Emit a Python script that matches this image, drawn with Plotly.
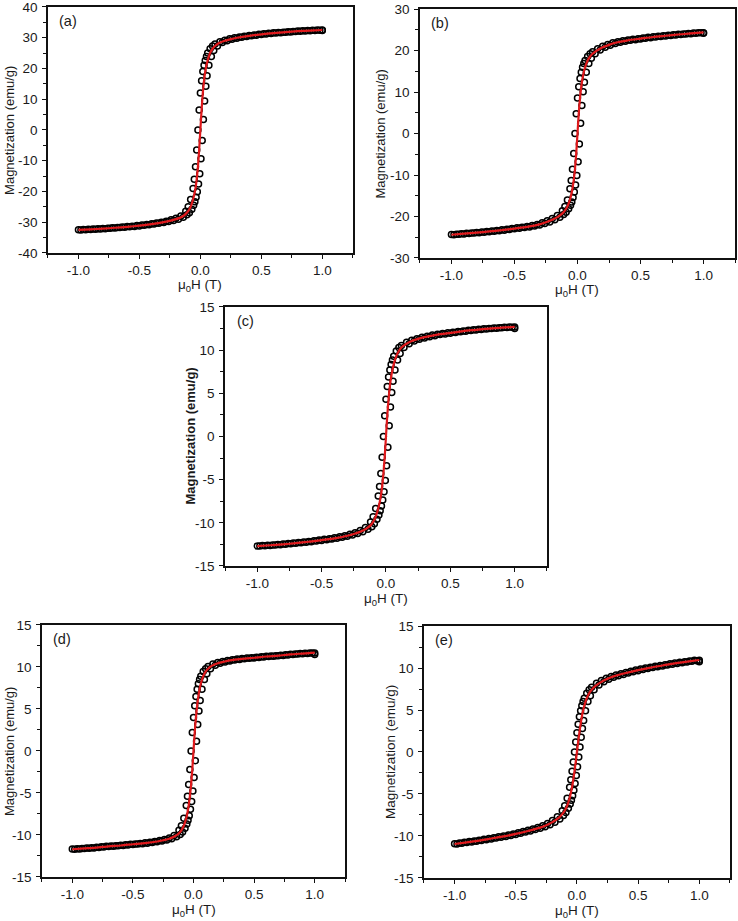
import plotly.graph_objects as go

# ---------------- field grids (T) ----------------
H_DESC = [1.00, 0.96, 0.92, 0.88, 0.84, 0.80, 0.76, 0.72, 0.68, 0.64, 0.60, 0.56, 0.52, 0.48, 0.44,
          0.40, 0.36, 0.32, 0.28, 0.24, 0.20, 0.16, 0.12,
          0.10, 0.08, 0.06, 0.05, 0.04, 0.03, 0.02, 0.01, 0.00, -0.01, -0.02, -0.03, -0.04, -0.05,
          -0.06, -0.08, -0.10,
          -0.12, -0.16, -0.20, -0.24, -0.28, -0.32, -0.36, -0.40, -0.44, -0.48, -0.52, -0.56, -0.60,
          -0.64, -0.68, -0.72, -0.76, -0.80, -0.84, -0.88, -0.92, -0.96, -1.00]
H_ASC = [-0.98, -0.94, -0.90, -0.86, -0.82, -0.78, -0.74, -0.70, -0.66, -0.62, -0.58, -0.54, -0.50,
         -0.46, -0.42, -0.38, -0.34, -0.30, -0.26, -0.22, -0.18, -0.14,
         -0.11, -0.09, -0.07, -0.055, -0.045, -0.035, -0.025, -0.015, -0.005, 0.005, 0.015, 0.025,
         0.035, 0.045, 0.055, 0.07, 0.09, 0.11,
         0.14, 0.18, 0.22, 0.26, 0.30, 0.34, 0.38, 0.42, 0.46, 0.50, 0.54, 0.58, 0.62, 0.66, 0.70,
         0.74, 0.78, 0.82, 0.86, 0.90, 0.94, 0.98, 1.00]
H_FIT = [-1.0, -0.9, -0.8, -0.7, -0.6, -0.5, -0.4, -0.3, -0.25, -0.2, -0.15, -0.12, -0.1, -0.08,
         -0.06, -0.05, -0.04, -0.03, -0.02, -0.01, 0.0, 0.01, 0.02, 0.03, 0.04, 0.05, 0.06, 0.08,
         0.1, 0.12, 0.15, 0.2, 0.25, 0.3, 0.4, 0.5, 0.6, 0.7, 0.8, 0.9, 1.0]

# ---------------- panel (a) ----------------
A_DESC = [32.3, 32.46, 32.38, 32.3, 32.22, 32.14, 32.04, 31.92, 31.8, 31.68, 31.56, 31.42, 31.27,
          31.1, 30.9, 30.7, 30.5, 30.25, 29.97, 29.65, 29.2, 28.7, 27.95,
          27.3, 26.4, 25.0, 23.9, 22.6, 21.0, 19.0, 16.0, 12.0, 6.5, 0.0, -6.5, -12.0, -16.0, -19.0,
          -22.6, -25.0,
          -26.4, -27.95, -28.7, -29.2, -29.65, -29.97, -30.25, -30.5, -30.7, -30.9, -31.1, -31.27,
          -31.42, -31.56, -31.68, -31.8, -31.92, -32.04, -32.14, -32.22, -32.3, -32.38, -32.46]
A_ASC = [-32.5, -32.42, -32.34, -32.26, -32.18, -32.1, -31.98, -31.86, -31.74, -31.62, -31.5, -31.35,
         -31.2, -31.0, -30.8, -30.6, -30.35, -30.1, -29.8, -29.45, -29.0, -28.4,
         -27.6, -26.9, -25.8, -24.5, -23.3, -21.9, -20.1, -17.6, -14.2, -9.4, -3.4, 3.4, 9.4, 14.2,
         17.6, 21.0, 23.9, 25.8,
         27.3, 28.4, 29.0, 29.45, 29.8, 30.1, 30.35, 30.6, 30.8, 31.0, 31.2, 31.35, 31.5, 31.62,
         31.74, 31.86, 31.98, 32.1, 32.18, 32.26, 32.34, 32.42, 32.46]
A_FIT = [-32.5, -32.3, -32.1, -31.8, -31.5, -31.1, -30.6, -29.97, -29.55, -29.0, -28.2, -27.3, -26.4,
         -25.0, -22.6, -21.0, -19.0, -16.0, -12.0, -6.5, 0.0, 6.5, 12.0, 16.0, 19.0, 21.0, 22.6,
         25.0, 26.4, 27.3, 28.2, 29.0, 29.55, 29.97, 30.6, 31.1, 31.5, 31.8, 32.1, 32.3, 32.5]

# ---------------- panel (b) ----------------
B_DESC = [24.2, 24.35, 24.25, 24.15, 24.05, 23.95, 23.84, 23.72, 23.6, 23.48, 23.36, 23.22, 23.06,
          22.9, 22.74, 22.58, 22.38, 22.14, 21.9, 21.5, 21.05, 20.45, 19.75,
          19.25, 18.6, 17.6, 16.9, 16.0, 14.8, 13.3, 11.3, 8.6, 4.8, 0.0, -4.8, -8.6, -11.3, -13.3,
          -16.0, -17.6,
          -18.6, -19.75, -20.45, -21.05, -21.5, -21.9, -22.14, -22.38, -22.58, -22.74, -22.9, -23.06,
          -23.22, -23.36, -23.48, -23.6, -23.72, -23.84, -23.95, -24.05, -24.15, -24.25, -24.35]
B_ASC = [-24.4, -24.3, -24.2, -24.1, -24.0, -23.9, -23.78, -23.66, -23.54, -23.42, -23.3, -23.14,
         -22.98, -22.82, -22.66, -22.5, -22.26, -22.02, -21.7, -21.3, -20.8, -20.15,
         -19.5, -18.95, -18.15, -17.3, -16.5, -15.4, -14.1, -12.4, -10.1, -6.8, -2.5, 2.5, 6.8,
         10.1, 12.4, 14.8, 16.9, 18.15,
         19.25, 20.15, 20.8, 21.3, 21.7, 22.02, 22.26, 22.5, 22.66, 22.82, 22.98, 23.14, 23.3,
         23.42, 23.54, 23.66, 23.78, 23.9, 24.0, 24.1, 24.2, 24.3, 24.35]
B_FIT = [-24.4, -24.15, -23.9, -23.6, -23.3, -22.9, -22.5, -21.9, -21.4, -20.8, -19.95, -19.25, -18.6,
         -17.6, -16.0, -14.8, -13.3, -11.3, -8.6, -4.8, 0.0, 4.8, 8.6, 11.3, 13.3, 14.8, 16.0, 17.6,
         18.6, 19.25, 19.95, 20.8, 21.4, 21.9, 22.5, 22.9, 23.3, 23.6, 23.9, 24.15, 24.4]

# ---------------- panel (c) ----------------
C_DESC = [12.5, 12.68, 12.64, 12.6, 12.56, 12.52, 12.47, 12.41, 12.35, 12.29, 12.23, 12.16, 12.08,
          12.0, 11.92, 11.84, 11.74, 11.62, 11.5, 11.33, 11.15, 10.9, 10.55,
          10.3, 9.9, 9.3, 8.85, 8.35, 7.7, 6.9, 5.8, 4.3, 2.4, 0.0, -2.4, -4.3, -5.8, -6.9, -8.35,
          -9.3,
          -9.9, -10.55, -10.9, -11.15, -11.33, -11.5, -11.62, -11.74, -11.84, -11.92, -12.0, -12.08,
          -12.16, -12.23, -12.29, -12.35, -12.41, -12.47, -12.52, -12.56, -12.6, -12.64, -12.68]
C_ASC = [-12.7, -12.66, -12.62, -12.58, -12.54, -12.5, -12.44, -12.38, -12.32, -12.26, -12.2, -12.12,
         -12.04, -11.96, -11.88, -11.8, -11.68, -11.56, -11.42, -11.25, -11.05, -10.75,
         -10.45, -10.1, -9.6, -9.1, -8.6, -8.05, -7.35, -6.4, -5.1, -3.4, -1.25, 1.25, 3.4, 5.1,
         6.4, 7.7, 8.85, 9.6,
         10.3, 10.75, 11.05, 11.25, 11.42, 11.56, 11.68, 11.8, 11.88, 11.96, 12.04, 12.12, 12.2,
         12.26, 12.32, 12.38, 12.44, 12.5, 12.54, 12.58, 12.62, 12.66, 12.68]
C_FIT = [-12.7, -12.6, -12.5, -12.35, -12.2, -12.0, -11.8, -11.5, -11.3, -11.05, -10.65, -10.3, -9.9,
         -9.3, -8.35, -7.7, -6.9, -5.8, -4.3, -2.4, 0.0, 2.4, 4.3, 5.8, 6.9, 7.7, 8.35, 9.3, 9.9,
         10.3, 10.65, 11.05, 11.3, 11.5, 11.8, 12.0, 12.2, 12.35, 12.5, 12.6, 12.7]

# ---------------- panel (d) ----------------
D_DESC = [11.5, 11.68, 11.64, 11.6, 11.56, 11.52, 11.47, 11.41, 11.35, 11.31, 11.27, 11.22, 11.16,
          11.1, 11.06, 11.0, 10.94, 10.86, 10.78, 10.66, 10.53, 10.35, 10.05,
          9.8, 9.45, 8.9, 8.5, 8.0, 7.35, 6.5, 5.4, 4.0, 2.2, 0.0, -2.2, -4.0, -5.4, -6.5, -8.0, -8.9,
          -9.45, -10.05, -10.35, -10.53, -10.66, -10.78, -10.86, -10.94, -11.0, -11.06, -11.1,
          -11.16, -11.22, -11.27, -11.31, -11.35, -11.41, -11.47, -11.52, -11.56, -11.6, -11.64,
          -11.68]
D_ASC = [-11.7, -11.66, -11.62, -11.58, -11.54, -11.5, -11.44, -11.38, -11.33, -11.29, -11.25, -11.19,
         -11.13, -11.08, -11.03, -10.97, -10.9, -10.82, -10.72, -10.6, -10.45, -10.2,
         -9.95, -9.65, -9.2, -8.7, -8.25, -7.7, -6.95, -6.0, -4.75, -3.15, -1.15, 1.15, 3.15, 4.75,
         6.0, 7.35, 8.5, 9.2,
         9.8, 10.2, 10.45, 10.6, 10.72, 10.82, 10.9, 10.97, 11.03, 11.08, 11.13, 11.19, 11.25,
         11.29, 11.33, 11.38, 11.44, 11.5, 11.54, 11.58, 11.62, 11.66, 11.68]
D_FIT = [-11.7, -11.6, -11.5, -11.35, -11.25, -11.1, -10.97, -10.78, -10.63, -10.45, -10.13, -9.8,
         -9.45, -8.9, -8.0, -7.35, -6.5, -5.4, -4.0, -2.2, 0.0, 2.2, 4.0, 5.4, 6.5, 7.35, 8.0, 8.9,
         9.45, 9.8, 10.13, 10.45, 10.63, 10.78, 10.97, 11.1, 11.25, 11.35, 11.5, 11.6, 11.7]

# ---------------- panel (e) ----------------
E_DESC = [10.75, 10.91, 10.83, 10.75, 10.67, 10.59, 10.5, 10.4, 10.3, 10.2, 10.1, 9.99, 9.87, 9.75,
          9.61, 9.47, 9.32, 9.16, 9.0, 8.77, 8.5, 8.17, 7.72,
          7.4, 7.0, 6.4, 6.0, 5.5, 4.9, 4.2, 3.3, 2.3, 1.2, 0.0, -1.2, -2.3, -3.3, -4.2, -5.5, -6.4,
          -7.0, -7.72, -8.17, -8.5, -8.77, -9.0, -9.16, -9.32, -9.47, -9.61, -9.75, -9.87, -9.99,
          -10.1, -10.2, -10.3, -10.4, -10.5, -10.59, -10.67, -10.75, -10.83, -10.91]
E_ASC = [-10.95, -10.87, -10.79, -10.71, -10.63, -10.55, -10.45, -10.35, -10.25, -10.15, -10.05,
         -9.93, -9.81, -9.68, -9.54, -9.4, -9.24, -9.08, -8.89, -8.65, -8.35, -7.97,
         -7.57, -7.2, -6.7, -6.2, -5.75, -5.2, -4.55, -3.75, -2.8, -1.75, -0.6, 0.6, 1.75, 2.8,
         3.75, 4.9, 6.0, 6.7,
         7.4, 7.97, 8.35, 8.65, 8.89, 9.08, 9.24, 9.4, 9.54, 9.68, 9.81, 9.93, 10.05, 10.15, 10.25,
         10.35, 10.45, 10.55, 10.63, 10.71, 10.79, 10.87, 10.91]
E_FIT = [-10.95, -10.75, -10.55, -10.3, -10.05, -9.75, -9.4, -9.0, -8.72, -8.35, -7.85, -7.4, -7.0,
         -6.4, -5.5, -4.9, -4.2, -3.3, -2.3, -1.2, 0.0, 1.2, 2.3, 3.3, 4.2, 4.9, 5.5, 6.4, 7.0, 7.4,
         7.85, 8.35, 8.72, 9.0, 9.4, 9.75, 10.05, 10.3, 10.55, 10.75, 10.95]

# ---------------- ticks / labels ----------------
PANEL_LABELS = ["(a)", "(b)", "(c)", "(d)", "(e)"]
X_TICKS = [-1.0, -0.5, 0.0, 0.5, 1.0]
X_TICK_TEXT = ["-1.0", "-0.5", "0.0", "0.5", "1.0"]
X_MINOR = [-1.25, -0.75, -0.25, 0.25, 0.75, 1.25]
Y_TICKS_A = [-40, -30, -20, -10, 0, 10, 20, 30, 40]
Y_TEXT_A = ["-40", "-30", "-20", "-10", "0", "10", "20", "30", "40"]
Y_MINOR_A = [-35, -25, -15, -5, 5, 15, 25, 35]
Y_TICKS_B = [-30, -20, -10, 0, 10, 20, 30]
Y_TEXT_B = ["-30", "-20", "-10", "0", "10", "20", "30"]
Y_MINOR_B = [-25, -15, -5, 5, 15, 25]
Y_TICKS_C = [-15, -10, -5, 0, 5, 10, 15]
Y_TEXT_C = ["-15", "-10", "-5", "0", "5", "10", "15"]
Y_MINOR_C = [-12.5, -7.5, -2.5, 2.5, 7.5, 12.5]
Y_TITLE = "Magnetization (emu/g)"
X_TITLE = "\u03bc<sub>0</sub>H (T)"

for arr in [A_DESC, B_DESC, C_DESC, D_DESC, E_DESC]:
    assert len(arr) == len(H_DESC), len(arr)
for arr in [A_ASC, B_ASC, C_ASC, D_ASC, E_ASC]:
    assert len(arr) == len(H_ASC), len(arr)
for arr in [A_FIT, B_FIT, C_FIT, D_FIT, E_FIT]:
    assert len(arr) == len(H_FIT), len(arr)

# ---------------- layout (positions / styles) ----------------
FONT = "Arial, Liberation Sans, Helvetica, sans-serif"
TXT = "#1a1a1a"
# xoff/yoff: pixel offsets of the axis titles from the axes
panels = [
    dict(desc=A_DESC, asc=A_ASC, fit=A_FIT, yr=[-40, 40], yt=Y_TICKS_A, ytx=Y_TEXT_A, ym=Y_MINOR_A,
         xd=[0.065, 0.478], yd=[0.7253, 0.9925], tsize=13, bold=False, xoff=-33, yoff=-38),
    dict(desc=B_DESC, asc=B_ASC, fit=B_FIT, yr=[-30, 30], yt=Y_TICKS_B, ytx=Y_TEXT_B, ym=Y_MINOR_B,
         xd=[0.569, 0.996], yd=[0.7199, 0.990], tsize=13, bold=False, xoff=-33, yoff=-39),
    dict(desc=C_DESC, asc=C_ASC, fit=C_FIT, yr=[-15, 15], yt=Y_TICKS_C, ytx=Y_TEXT_C, ym=Y_MINOR_C,
         xd=[0.305, 0.741], yd=[0.3855, 0.6667], tsize=13, bold=True, xoff=-34, yoff=-35),
    dict(desc=D_DESC, asc=D_ASC, fit=D_FIT, yr=[-15, 15], yt=Y_TICKS_C, ytx=Y_TEXT_C, ym=Y_MINOR_C,
         xd=[0.0569, 0.4675], yd=[0.0478, 0.3214], tsize=13, bold=False, xoff=-34, yoff=-32),
    dict(desc=E_DESC, asc=E_ASC, fit=E_FIT, yr=[-15, 15], yt=Y_TICKS_C, ytx=Y_TEXT_C, ym=Y_MINOR_C,
         xd=[0.5745, 0.989], yd=[0.0467, 0.3203], tsize=13.5, bold=False, xoff=-34, yoff=-33),
]

fig = go.Figure()
layout = dict(width=738, height=921, margin=dict(l=0, r=0, t=0, b=0, pad=0),
              paper_bgcolor="white", plot_bgcolor="white", showlegend=False,
              font=dict(family=FONT, color=TXT))
annotations = []
AX_COLOR = "#111111"
for i, p in enumerate(panels):
    n = i + 1
    xa = "x" if n == 1 else f"x{n}"
    ya = "y" if n == 1 else f"y{n}"
    marker = dict(symbol="circle-open", size=6, color="black", line=dict(width=1.5, color="black"))
    fig.add_trace(go.Scatter(x=H_DESC, y=p["desc"], mode="markers", marker=marker,
                             xaxis=xa, yaxis=ya, hoverinfo="skip"))
    fig.add_trace(go.Scatter(x=H_ASC, y=p["asc"], mode="markers", marker=marker,
                             xaxis=xa, yaxis=ya, hoverinfo="skip"))
    fig.add_trace(go.Scatter(x=H_FIT, y=p["fit"], mode="lines",
                             line=dict(color="#e0191c", width=2.2, shape="spline", smoothing=0.6),
                             xaxis=xa, yaxis=ya, hoverinfo="skip"))
    xkey = "xaxis" if n == 1 else f"xaxis{n}"
    ykey = "yaxis" if n == 1 else f"yaxis{n}"
    layout[xkey] = dict(
        domain=p["xd"], anchor=ya, range=[-1.25, 1.25], showgrid=False, zeroline=False,
        automargin=False, ticklabeloverflow="allow", ticklabelstandoff=0,
        showline=True, linecolor=AX_COLOR, linewidth=1.6, mirror=True,
        ticks="outside", ticklen=4, tickwidth=1.3, tickcolor=AX_COLOR,
        tickmode="array", tickvals=X_TICKS, ticktext=X_TICK_TEXT,
        tickfont=dict(size=13.5, family=FONT, color=TXT),
        minor=dict(tickmode="array", tickvals=X_MINOR, ticks="outside", ticklen=3,
                   tickwidth=1.2, tickcolor=AX_COLOR, showgrid=False),
    )
    layout[ykey] = dict(
        domain=p["yd"], anchor=xa, range=p["yr"], showgrid=False, zeroline=False,
        automargin=False, ticklabeloverflow="allow", ticklabelstandoff=2,
        showline=True, linecolor=AX_COLOR, linewidth=1.6, mirror=True,
        ticks="outside", ticklen=4, tickwidth=1.3, tickcolor=AX_COLOR,
        tickmode="array", tickvals=p["yt"], ticktext=p["ytx"],
        tickfont=dict(size=13.5, family=FONT, color=TXT),
        minor=dict(tickmode="array", tickvals=p["ym"], ticks="outside", ticklen=3,
                   tickwidth=1.2, tickcolor=AX_COLOR, showgrid=False),
    )
    # panel label
    annotations.append(dict(text=PANEL_LABELS[i], xref=f"{xa} domain", yref=f"{ya} domain",
                            x=0.03, y=0.985, xanchor="left", yanchor="top", showarrow=False,
                            font=dict(size=14.5, family=FONT, color=TXT)))
    # x-axis title
    annotations.append(dict(text=X_TITLE, xref=f"{xa} domain", yref=f"{ya} domain",
                            x=0.5, y=0, xanchor="center", yanchor="middle", yshift=p["xoff"],
                            showarrow=False, font=dict(size=13.5, family=FONT, color=TXT)))
    # y-axis title
    ytitle = f"<b>{Y_TITLE}</b>" if p["bold"] else Y_TITLE
    annotations.append(dict(text=ytitle, xref=f"{xa} domain", yref=f"{ya} domain",
                            x=0, y=0.5, xanchor="center", yanchor="middle", xshift=p["yoff"],
                            textangle=-90, showarrow=False,
                            font=dict(size=p["tsize"], family=FONT, color=TXT)))

layout["annotations"] = annotations
fig.update_layout(**layout)
# remove the browser's default 8px body margin so the figure sits at the window origin
fig.write_html("out.html", config={"displayModeBar": False},
               post_script="document.body.style.margin='0px';")
